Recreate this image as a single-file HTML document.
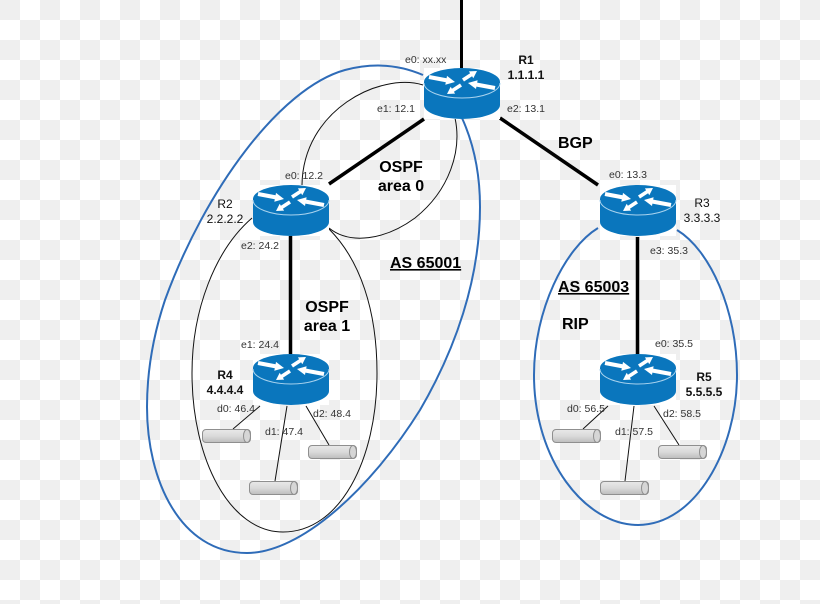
<!DOCTYPE html>
<html><head><meta charset="utf-8"><style>
html,body{margin:0;padding:0;background:#fff}
svg{display:block}
text{font-family:"Liberation Sans",sans-serif;fill:#111}
.s{font-size:10.5px;fill:#333}
.b{font-size:16px;font-weight:bold;fill:#000}
.n{font-size:12px;text-anchor:middle}
.nb{font-size:12px;font-weight:bold;text-anchor:middle}
.m{text-anchor:middle}
</style></head><body>
<svg width="820" height="604" viewBox="0 0 820 604" xmlns="http://www.w3.org/2000/svg">
<defs>
<pattern id="ck" width="40" height="40" patternUnits="userSpaceOnUse">
<rect width="40" height="40" fill="#fff"/>
<rect width="20" height="20" fill="#efefef"/>
<rect x="20" y="20" width="20" height="20" fill="#efefef"/>
</pattern>
<linearGradient id="cy" x1="0" y1="0" x2="0" y2="1">
<stop offset="0" stop-color="#e8e8e8"/><stop offset="0.5" stop-color="#dadada"/><stop offset="1" stop-color="#bdbdbd"/>
</linearGradient>
<g id="rt">
<rect x="-38" y="0" width="76" height="51" fill="#fff"/>
<path d="M-38,14 V37 A38,14 0 0 0 38,37 V14 Z" fill="#0a76bd"/>
<ellipse cx="0" cy="14" rx="38" ry="14" fill="#0a76bd"/>
<path d="M-38,15 A38,15 0 0 0 38,15" fill="none" stroke="#a9d3ee" stroke-width="1"/>
<g fill="#fff">
<path d="M-33.4,11 L-16.2,14.3 L-16.7,16.7 L-7,14 L-15,7.9 L-15.4,10.3 L-32.6,7 Z"/>
<path d="M33.4,18 L15.2,14.6 L15.6,12.2 L6,15 L14,21 L14.4,18.6 L32.6,22 Z"/>
<path d="M2,13.5 L10.1,8.3 L11.3,10.2 L15,3 L6.9,3.4 L8.1,5.3 L0,10.5 Z"/>
<path d="M0,18.5 L-8.1,23.7 L-6.9,25.6 L-15,26 L-11.3,18.8 L-10.1,20.7 L-2,15.5 Z"/>
</g>
</g>
<g id="cyl">
<rect x="0.5" y="0.5" width="48" height="13" rx="3.5" fill="url(#cy)" stroke="#8f8f8f"/>
<ellipse cx="45" cy="7" rx="3.5" ry="6.5" fill="#d6d6d6" stroke="#8f8f8f"/>
</g>
</defs>
<rect width="820" height="604" fill="url(#ck)"/>

<g fill="none" stroke="#000" stroke-width="3.5">
<path d="M461.5,0 V68" stroke-width="3"/>
<path d="M424,119 L329,184"/>
<path d="M500,118 L598,185"/>
<path d="M290.5,236 V354"/>
<path d="M637.5,237 V354"/>
</g>

<g fill="none" stroke="#2f6cb8" stroke-width="2">
<path d="M423,75 C400,65 375,62 345,70 C280,88 205,190 165,300 C150,345 147,380 147,407 C147,480 180,553 247,553 C300,553 370,490 420,410 C455,350 480,280 480,207 C480,170 472,140 462,118"/>
<path d="M598,228 C565,248 534,310 534,375 C534,460 585,525 638,525 C695,525 737,450 737,375 C737,310 710,250 677,230"/>
</g>
<g fill="none" stroke="#111" stroke-width="1">
<path d="M252,218 C215,250 192,310 192,373 C192,460 230,532 283,532 C340,532 377,460 377,373 C377,310 360,260 329,229"/>
<path d="M423,85 C380,72 303,110 302,185"/>
<path d="M455,118 C462,150 450,190 415,218 C385,240 350,245 329,228"/>
<path d="M260,406 L233,429 M287,406 L275,481 M306,406 L329,445 M608,406 L583,429 M634,406 L625,481 M654,406 L679,445"/>
</g>

<use href="#rt" x="462" y="68"/>
<use href="#rt" x="291" y="185"/>
<use href="#rt" x="638" y="185"/>
<use href="#rt" x="291" y="354"/>
<use href="#rt" x="638" y="354"/>

<use href="#cyl" x="202" y="429"/>
<use href="#cyl" x="249" y="481"/>
<use href="#cyl" x="308" y="445"/>
<use href="#cyl" x="552" y="429"/>
<use href="#cyl" x="600" y="481"/>
<use href="#cyl" x="658" y="445"/>

<text class="s" x="405" y="63">e0: xx.xx</text>
<text class="s" x="377" y="112">e1: 12.1</text>
<text class="s" x="507" y="112">e2: 13.1</text>
<text class="s" x="285" y="179">e0: 12.2</text>
<text class="s" x="241" y="249">e2: 24.2</text>
<text class="s" x="241" y="348">e1: 24.4</text>
<text class="s" x="217" y="412">d0: 46.4</text>
<text class="s" x="265" y="435">d1: 47.4</text>
<text class="s" x="313" y="417">d2: 48.4</text>
<text class="s" x="609" y="178">e0: 13.3</text>
<text class="s" x="650" y="254">e3: 35.3</text>
<text class="s" x="655" y="347">e0: 35.5</text>
<text class="s" x="567" y="412">d0: 56.5</text>
<text class="s" x="615" y="435">d1: 57.5</text>
<text class="s" x="663" y="417">d2: 58.5</text>

<text class="nb" x="526" y="64">R1</text>
<text class="nb" x="526" y="79">1.1.1.1</text>
<text class="n" x="225" y="208">R2</text>
<text class="n" x="225" y="223">2.2.2.2</text>
<text class="n" x="702" y="207">R3</text>
<text class="n" x="702" y="222">3.3.3.3</text>
<text class="nb" x="225" y="379">R4</text>
<text class="nb" x="225" y="394">4.4.4.4</text>
<text class="nb" x="704" y="381">R5</text>
<text class="nb" x="704" y="396">5.5.5.5</text>

<text class="b m" x="401" y="172">OSPF</text>
<text class="b m" x="401" y="191">area 0</text>
<text class="b m" x="327" y="312">OSPF</text>
<text class="b m" x="327" y="331">area 1</text>
<text class="b" x="558" y="148">BGP</text>
<text class="b" x="390" y="268" text-decoration="underline">AS 65001</text>
<text class="b" x="558" y="292" text-decoration="underline">AS 65003</text>
<text class="b" x="562" y="329">RIP</text>
</svg>
</body></html>
